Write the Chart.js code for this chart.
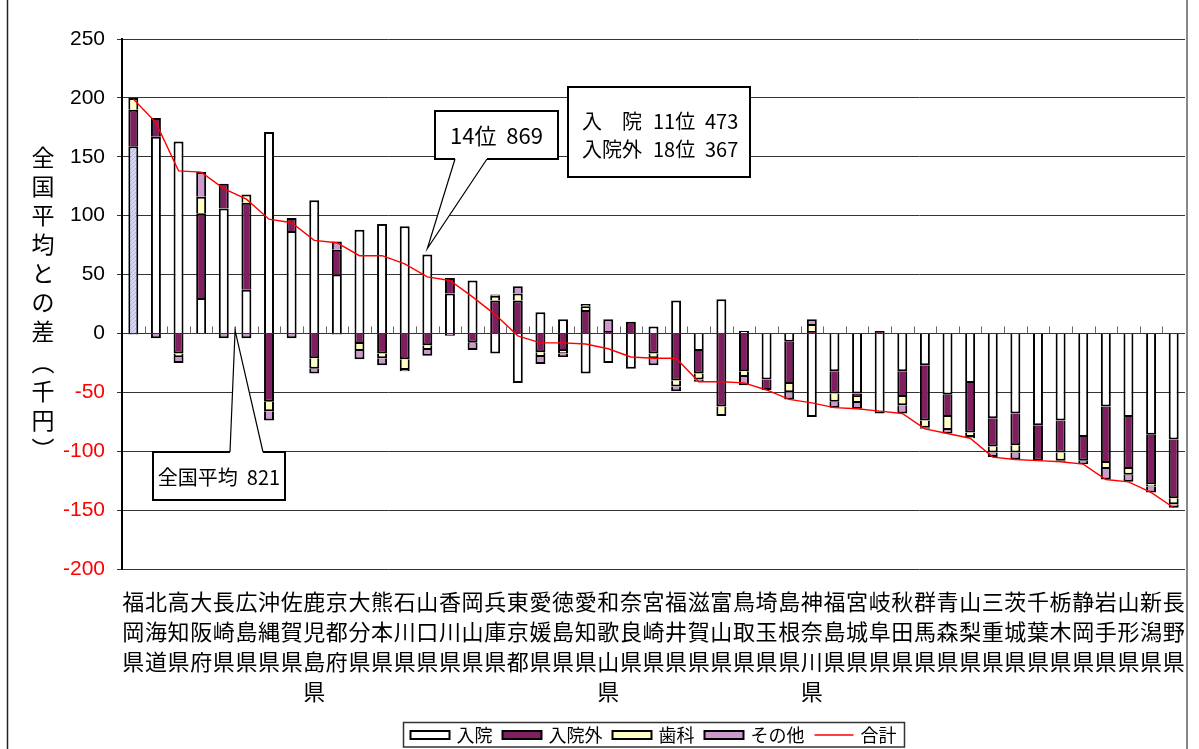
<!DOCTYPE html>
<html lang="ja">
<head>
<meta charset="utf-8">
<title>一人当たり医療費 全国平均との差</title>
<script src="https://cdn.jsdelivr.net/npm/chart.js@4.4.1/dist/chart.umd.min.js"></script>
<style>
html,body{margin:0;padding:0;background:#fff;}
#wrap{width:1199px;height:749px;position:relative;}
</style>
</head>
<body>
<div id="wrap"><canvas id="chart1" width="1199" height="749"></canvas></div>
<script>
// 都道府県（合計の多い順）
const prefs = ["福岡県","北海道","高知県","大阪府","長崎県","広島県","沖縄県","佐賀県","鹿児島県","京都府",
  "大分県","熊本県","石川県","山口県","香川県","岡山県","兵庫県","東京都","愛媛県","徳島県",
  "愛知県","和歌山県","奈良県","宮崎県","福井県","滋賀県","富山県","鳥取県","埼玉県","島根県",
  "神奈川県","福島県","宮城県","岐阜県","秋田県","群馬県","青森県","山梨県","三重県","茨城県",
  "千葉県","栃木県","静岡県","岩手県","山形県","新潟県","長野県"];
// 全国平均との差（千円）
const nyuin    = [159,167,163,30,106,37,171,87,113,50,88,93,91,67,34,45,-17,-42,18,12,-34,-25,-30,6,28,-15,29,2,-39,-7,-71,-32,-51,-68,-32,-27,-52,-42,-72,-68,-78,-74,-88,-62,-71,-86,-90];
const nyuingai = [31,16,-17,72,21,74,-58,11,-21,21,-9,-17,-22,-10,13,-8,28,28,-16,-15,20,2,10,-17,-40,-19,-62,-32,-9,-36,2,-19,-3,2,-22,-47,-19,-42,-24,-27,-30,-27,-20,-48,-44,-42,-50];
const shika    = [10,0,-3,14,0,7,-8,0,-9,-1,-6,-4,-9,-4,0,-1,4,6,-4,-2,3,0,0,-4,-5,-5,-8,-5,0,-7,6,-7,-5,0,-7,-6,-11,-4,-5,-6,0,-7,0,-5,-5,-2,-5];
const sonota   = [-1,-4,-5,21,-4,-4,-8,-4,-4,7,-7,-6,-1,-5,-2,-5,1,6,-6,-3,2,10,0,-6,-4,-2,0,-7,0,-6,4,-5,-5,0,-7,-1,-3,-1,-4,-6,0,-1,-3,-9,-6,-5,-3];
const goukei   = [199,179,138,137,123,114,97,94,79,77,66,66,59,48,45,31,16,-2,-8,-8,-9,-13,-20,-21,-21,-41,-41,-42,-48,-56,-59,-63,-64,-66,-68,-81,-85,-89,-105,-107,-108,-109,-111,-124,-126,-135,-148];
const yTicks = [250,200,150,100,50,0,-50,-100,-150,-200];
const avgAll = 821;

const JP = "'Noto Sans CJK JP','Noto Sans',sans-serif";
const COL_IN = "#ffffff", COL_OUT = "#7f1f5f", COL_DEN = "#ffffc4", COL_OTH = "#cc99cc";

// 福岡県の入院だけ斜線の塗り
function hatch(){
  const c = document.createElement("canvas"); c.width = 4; c.height = 4;
  const g = c.getContext("2d");
  g.fillStyle = "#d6d6fa"; g.fillRect(0,0,4,4);
  g.strokeStyle = "#b0b0ec"; g.lineWidth = 1;
  g.beginPath(); g.moveTo(0,4); g.lineTo(4,0); g.stroke();
  return g.createPattern(c,"repeat");
}
const inColors = prefs.map((p,i) => i===0 ? hatch() : COL_IN);

function bars(label,data,color){
  return {type:"bar", label:label, data:data, backgroundColor:color, borderColor:"#000",
          borderWidth:2, barPercentage:0.44, categoryPercentage:1, order:1, stack:"s"};
}

// 吹き出し（枠＋くさび）
function callout(ctx,b,side,base,tip){
  const ey = side==="bottom" ? b.b : b.t;
  ctx.save();
  ctx.fillStyle = "#fff";
  ctx.fillRect(b.l,b.t,b.r-b.l,b.b-b.t);
  if ( tip ) {
    ctx.beginPath(); ctx.moveTo(base[0],ey); ctx.lineTo(tip.x,tip.y); ctx.lineTo(base[1],ey); ctx.closePath(); ctx.fill();
  }
  ctx.strokeStyle = "#000"; ctx.lineWidth = 2;
  ctx.beginPath();
  if ( !tip ) ctx.rect(b.l,b.t,b.r-b.l,b.b-b.t);
  else if ( side==="bottom" ) {
    ctx.moveTo(base[0],b.b); ctx.lineTo(b.l,b.b); ctx.lineTo(b.l,b.t); ctx.lineTo(b.r,b.t); ctx.lineTo(b.r,b.b); ctx.lineTo(base[1],b.b);
  } else {
    ctx.moveTo(base[0],b.t); ctx.lineTo(b.l,b.t); ctx.lineTo(b.l,b.b); ctx.lineTo(b.r,b.b); ctx.lineTo(b.r,b.t); ctx.lineTo(base[1],b.t);
  }
  ctx.stroke();
  if ( tip ) {
    ctx.lineWidth = 1.2;
    ctx.beginPath(); ctx.moveTo(base[0],ey); ctx.lineTo(tip.x,tip.y); ctx.lineTo(base[1],ey); ctx.stroke();
  }
  ctx.restore();
}

const extras = {
  id:"extras",
  beforeDatasetsDraw(chart){
    const {ctx, chartArea:a, scales:{x,y}} = chart;
    const y0 = y.getPixelForValue(0);
    const w = (a.right-a.left)/prefs.length;
    ctx.save();
    ctx.strokeStyle = "#666"; ctx.lineWidth = 1;
    ctx.beginPath();
    for (let i=1;i<prefs.length;++i) { const px = Math.round(a.left+i*w)+0.5; ctx.moveTo(px,y0); ctx.lineTo(px,y0-7); }
    ctx.stroke();
    ctx.restore();
  },
  afterDatasetsDraw(chart){
    const {ctx, scales:{x,y}} = chart;
    ctx.save();
    // 山口県
    const iy = prefs.indexOf("山口県");
    const tip1 = {x:x.getPixelForValue(iy), y:y.getPixelForValue(nyuin[iy])-6};
    callout(ctx,{l:435,t:111,r:558,b:159},"bottom",[455,487],tip1);
    ctx.fillStyle = "#000"; ctx.textBaseline = "middle"; ctx.textAlign = "center";
    ctx.font = "22px "+JP;
    ctx.fillText((iy+1)+"位  "+(avgAll+goukei[iy]),496.5,136);
    callout(ctx,{l:568,t:87,r:750,b:177},null,null,null);
    ctx.font = "20px "+JP; ctx.textAlign = "left";
    ctx.fillText("入　院",582,121); ctx.fillText("11位",653,121); ctx.fillText("473",705,121);
    ctx.fillText("入院外",582,149); ctx.fillText("18位",653,149); ctx.fillText("367",705,149);
    // 全国平均
    const ia = prefs.indexOf("長崎県");
    const tip2 = {x:(x.getPixelForValue(ia)+x.getPixelForValue(ia+1))/2, y:y.getPixelForValue(0)-3};
    callout(ctx,{l:153,t:452,r:285,b:500},"top",[230,263],tip2);
    ctx.textAlign = "center";
    ctx.fillText("全国平均  "+avgAll,219,477);
    ctx.restore();
  },
  afterDraw(chart){
    const {ctx, chartArea:a} = chart;
    ctx.save();
    // 軸タイトル（縦書き）
    ctx.fillStyle = "#000"; ctx.font = "23px "+JP; ctx.textAlign = "center"; ctx.textBaseline = "middle";
    const title = ["全","国","平","均","と","の","差","︵","千","円","︶"];
    title.forEach((ch,i) => ctx.fillText(ch,43,157+i*29+(i>6?2:0)));
    // 凡例
    const ds = chart.data.datasets;
    const items = [ds[0],ds[1],ds[2],ds[3],ds[4]];
    ctx.font = "18px "+JP; ctx.textAlign = "left";
    let tw = 0;
    items.forEach(d => { tw += 39+7+ctx.measureText(d.label).width+10; });
    tw -= 10;
    let cx = (a.left+a.right)/2 - tw/2;
    const ly = 735;
    ctx.strokeStyle = "#333"; ctx.lineWidth = 1.5;
    ctx.strokeRect(cx-7,722.5,tw+15,24.5);
    items.forEach((d,i) => {
      if ( d.type==="line" ) {
        ctx.strokeStyle = d.borderColor; ctx.lineWidth = 1.5;
        ctx.beginPath(); ctx.moveTo(cx,ly); ctx.lineTo(cx+39,ly); ctx.stroke();
      } else {
        ctx.fillStyle = i===0 ? COL_IN : d.backgroundColor;
        ctx.fillRect(cx,731,39,8);
        ctx.strokeStyle = "#000"; ctx.lineWidth = 2;
        ctx.strokeRect(cx,731,39,8);
      }
      ctx.fillStyle = "#000";
      ctx.fillText(d.label,cx+46,ly);
      cx += 39+7+ctx.measureText(d.label).width+10;
    });
    // 外枠
    ctx.strokeStyle = "#222"; ctx.lineWidth = 1.5;
    ctx.beginPath(); ctx.moveTo(7.5,0); ctx.lineTo(7.5,749); ctx.stroke();
    ctx.strokeStyle = "#888"; ctx.lineWidth = 2;
    ctx.beginPath(); ctx.moveTo(1187,0); ctx.lineTo(1187,749); ctx.stroke();
    ctx.restore();
  }
};

new Chart(document.getElementById("chart1"), {
  data: {
    labels: prefs.map(p => Array.from(p)),
    datasets: [
      bars("入院",nyuin,inColors),
      bars("入院外",nyuingai,COL_OUT),
      bars("歯科",shika,COL_DEN),
      bars("その他",sonota,COL_OTH),
      {type:"line", label:"合計", data:goukei, borderColor:"#ff0000", borderWidth:1.4, pointRadius:0,
       tension:0, fill:false, order:0, stack:"total"}
    ]
  },
  options: {
    responsive:false, animation:false, devicePixelRatio:1,
    layout:{padding:{top:39,right:14,left:0,bottom:0}},
    plugins:{legend:{display:false}, tooltip:{enabled:false}},
    scales:{
      x:{
        stacked:true,
        grid:{display:false}, border:{display:false},
        ticks:{autoSkip:false, maxRotation:0, minRotation:0, color:"#000", padding:10,
               font:{family:JP, size:22, lineHeight:30/22}},
        afterFit(s){ s.height = 180; }
      },
      y:{
        stacked:true,
        min:yTicks[yTicks.length-1], max:yTicks[0],
        grid:{color:"#333", lineWidth:1, tickLength:5, tickColor:"#333"},
        border:{color:"#000", width:2},
        ticks:{stepSize:yTicks[0]-yTicks[1], padding:12,
               color:c => c.tick.value<0 ? "#ff0000" : "#000",
               font:{family:"'Liberation Sans',Arial,sans-serif", size:21}},
        afterFit(s){ s.width = 122; }
      }
    }
  },
  plugins:[extras]
});
</script>
</body>
</html>
